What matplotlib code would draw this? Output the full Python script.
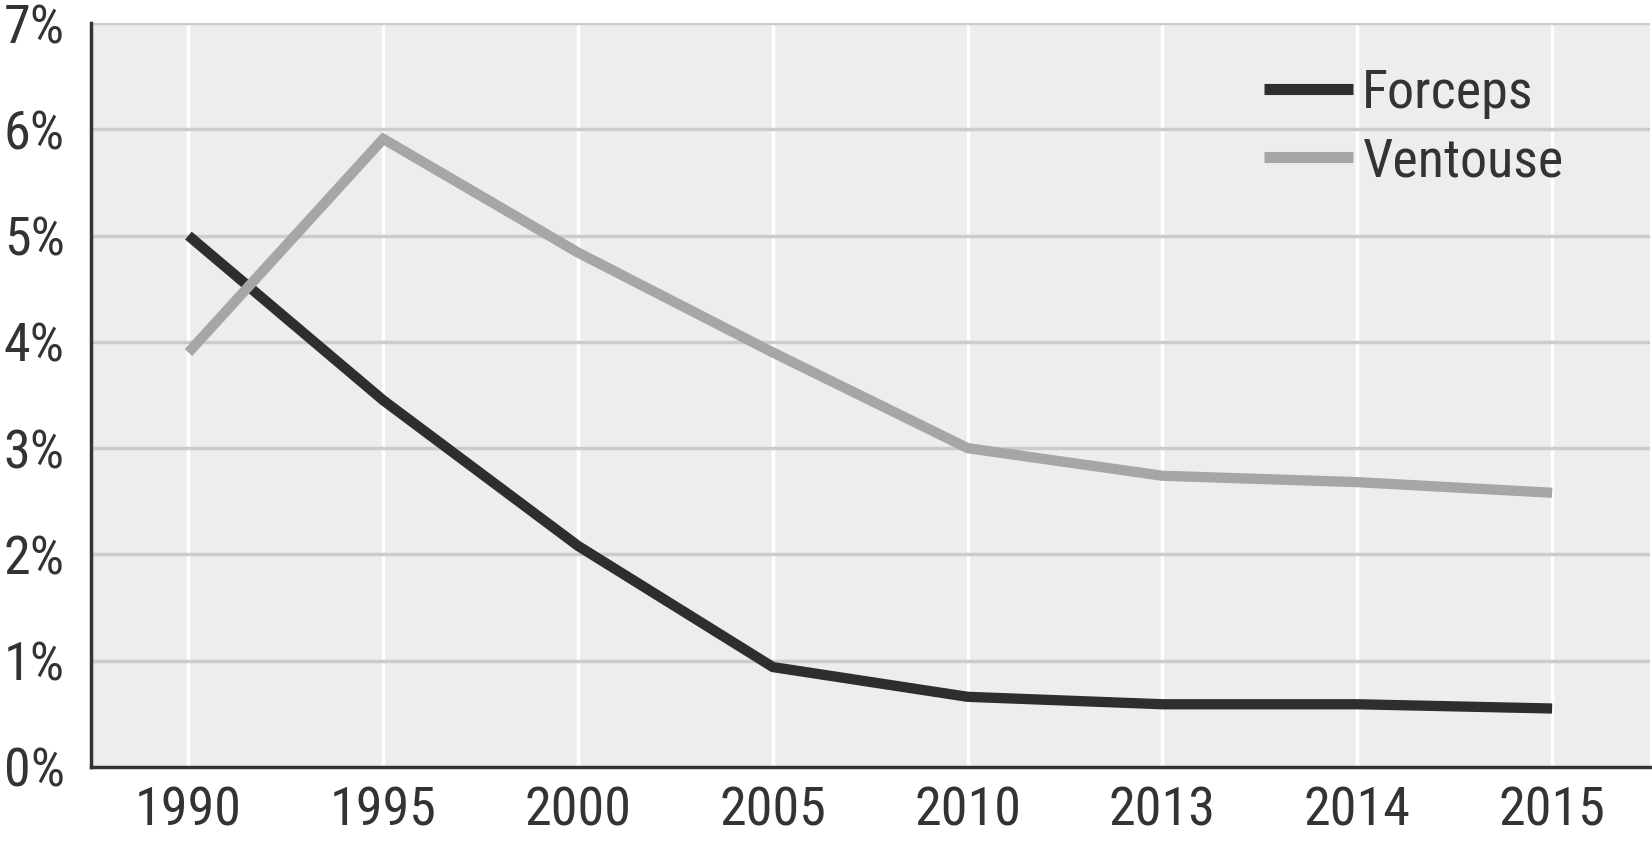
import matplotlib
matplotlib.use("Agg")
import matplotlib.pyplot as plt
from matplotlib.ticker import FuncFormatter

# data
years = ["1990", "1995", "2000", "2005", "2010", "2013", "2014", "2015"]
forceps = [5.0, 3.45, 2.08, 0.94, 0.66, 0.59, 0.59, 0.55]
ventouse = [3.9, 5.91, 4.84, 3.9, 3.0, 2.74, 2.68, 2.58]

# narrow sans, like Arial Narrow in the original
plt.rcParams['font.family'] = ['Nimbus Sans Narrow', 'Liberation Sans Narrow', 'Arial Narrow',
                               'Roboto Condensed', 'Archivo Narrow', 'DejaVu Sans']
txt = '#333333'

fig = plt.figure(figsize=(16.52, 8.47), dpi=100)
ax = fig.add_axes([0.0551, 0.0945, 0.9434, 0.8783])
ax.set_facecolor('#ededed')

x = list(range(len(years)))
ax.plot(x, forceps, color='#2e2e2e', lw=7.4, solid_capstyle='butt', solid_joinstyle='miter', label='Forceps', zorder=3)
ax.plot(x, ventouse, color='#a6a6a6', lw=7.4, solid_capstyle='butt', solid_joinstyle='miter', label='Ventouse', zorder=3)

ax.set_xlim(-0.5, 7.5)
ax.set_ylim(0, 7)
ax.set_xticks(x)
ax.set_xticklabels(years)
ax.set_yticks(range(0, 8))
ax.yaxis.set_major_formatter(FuncFormatter(lambda v, p: f"{int(v)}%"))

# gridlines: white verticals, grey horizontals
for xi in x:
    ax.axvline(xi, color='white', lw=2.5, zorder=1)
for yi in range(1, 8):
    ax.axhline(yi, color='#cccccc', lw=2.5, zorder=1)

for s in ['top', 'right']:
    ax.spines[s].set_visible(False)
for s in ['left', 'bottom']:
    ax.spines[s].set_color('#333333')
    ax.spines[s].set_linewidth(2.5)

ax.tick_params(axis='both', length=0, labelsize=39, colors=txt)
ax.tick_params(axis='y', pad=19)
ax.tick_params(axis='x', pad=13)

leg = ax.legend(loc='upper left', bbox_to_anchor=(0.765, 0.920), bbox_transform=fig.transFigure,
                frameon=False, fontsize=39, handlelength=1.65, handletextpad=0.17,
                labelspacing=0.32, borderaxespad=0, borderpad=0)
for h in leg.get_lines():
    h.set_linewidth(8)
for t in leg.get_texts():
    t.set_color(txt)

fig.savefig("out.png", dpi=100, facecolor='white')
